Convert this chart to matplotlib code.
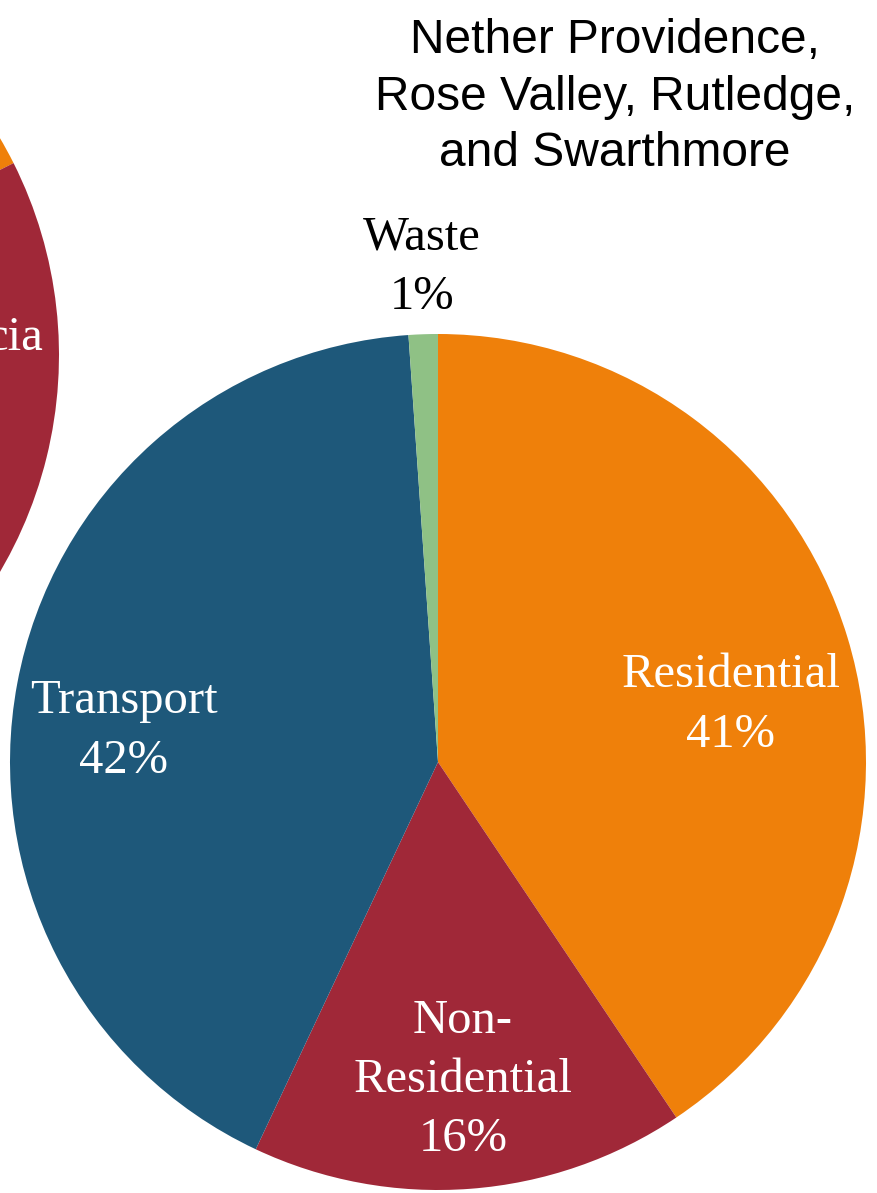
import matplotlib.pyplot as plt

# data
sectors = ['Residential', 'Non-\nResidential', 'Transport', 'Waste']
shares = [40.6, 16.4, 41.9, 1.1]
shown_pct = ['41%', '16%', '42%', '1%']
colors = ['#EF800A', '#A02838', '#1E587A', '#8FC185']

# neighbouring chart, only its edge is visible
left_shares = [17.6, 45.0, 36.0, 1.4]

W, H = 878, 1193
fig = plt.figure(figsize=(W / 100, H / 100), dpi=100)
ax = fig.add_axes([0, 0, 1, 1])

R = 428
ax.pie(left_shares, colors=colors, startangle=90, counterclock=False,
       center=(-369, H - 355), radius=R, wedgeprops=dict(linewidth=0),
       frame=True)
ax.pie(shares, colors=colors, startangle=90, counterclock=False,
       center=(438, H - 762), radius=R, wedgeprops=dict(linewidth=0),
       frame=True)
ax.set_xlim(0, W)
ax.set_ylim(0, H)
ax.set_aspect('equal')
ax.axis('off')

serif = 'Liberation Serif'
# label positions (pixels from top-left)
label_pos = [(731, 705), (463, 1080), (124, 731), (422, 267)]
label_col = ['white', 'white', 'white', 'black']
for name, pct, (x, y), c in zip(sectors, shown_pct, label_pos, label_col):
    ax.text(x, H - y, name + '\n' + pct, ha='center', va='center',
            fontsize=35, family=serif, color=c, linespacing=1.45)

# label of the neighbouring pie, cut by the edge as in the source
ax.text(43, H - 338, 'cia', ha='right', va='center', fontsize=35,
        family=serif, color='white')

ax.text(615, H - 97, 'Nether Providence,\nRose Valley, Rutledge,\nand Swarthmore',
        ha='center', va='center', fontsize=34.5, family='Liberation Sans',
        linespacing=1.32)

fig.savefig('out.png', dpi=100)
